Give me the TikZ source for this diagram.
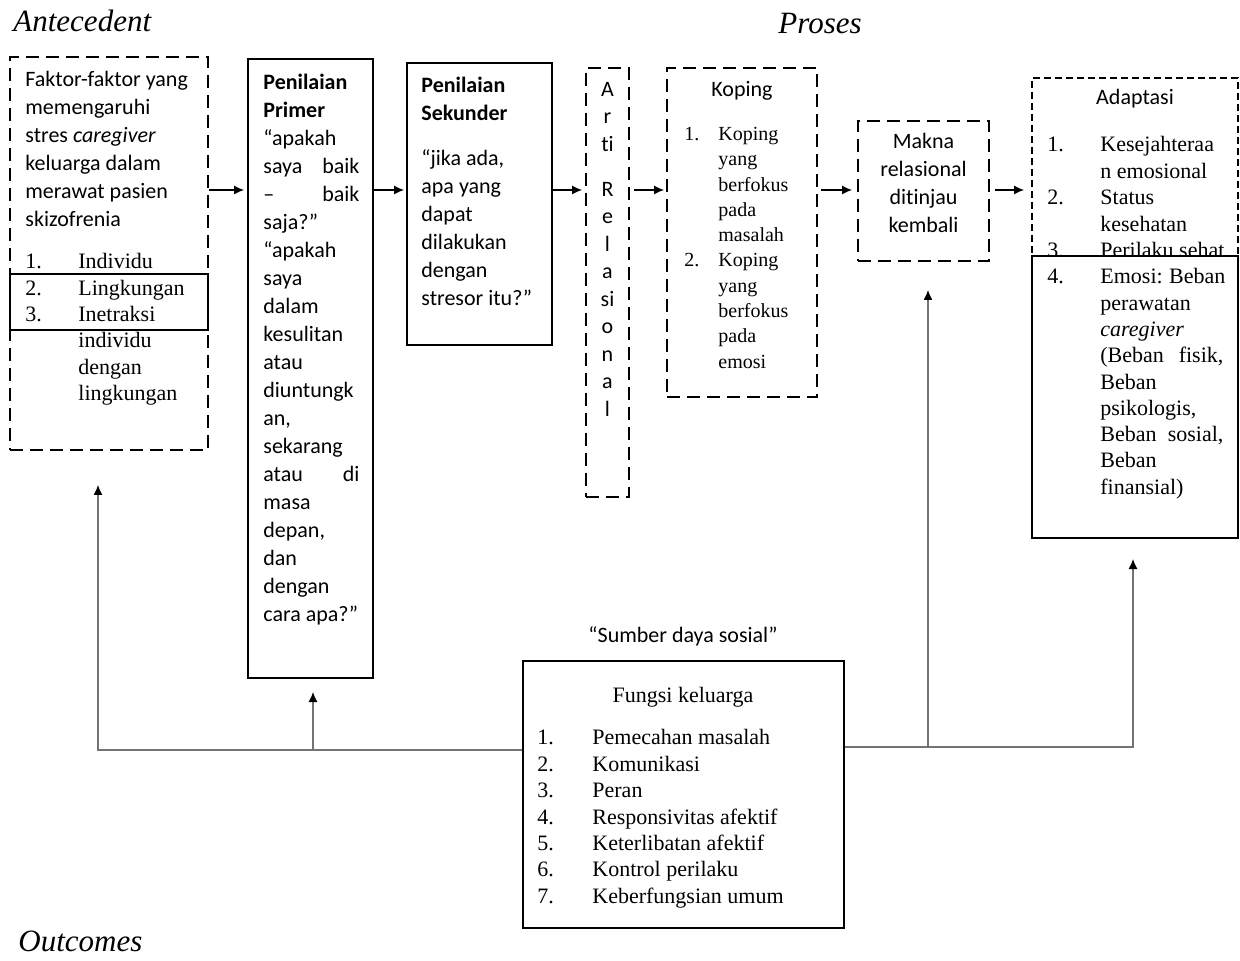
\documentclass[tikz,border=0pt]{standalone}
\usepackage{fontspec}
\setmainfont{Liberation Serif}
\newfontfamily\calibri[Ligatures=NoCommon]{Carlito}
\usepackage{tikz}
\usetikzlibrary{arrows.meta, fit}

\newcommand{\listnum}[3][26.5pt]{\makebox[#1][l]{#2}#3}

\tikzset{
  kotak/.style={draw, line width=0.8pt, inner sep=0pt},
  kotakputus/.style={kotak, dash pattern=on 6.5pt off 3.5pt},
  teks/.style={inner sep=0pt, anchor=north west, align=left},
  cal/.style={font=\calibri\fontsize{11}{14}\selectfont},
  tms/.style={font=\rmfamily\fontsize{11}{13.15}\selectfont},
  judul/.style={inner sep=0pt, anchor=base west, font=\rmfamily\itshape\fontsize{15.5}{18}\selectfont},
  panah/.style={line width=0.8pt, -{Latex[length=5pt,width=4.5pt]}},
  panahabu/.style={draw=black!55, line width=0.6pt, -{Latex[length=5pt,width=4.5pt,color=black]}}
}

\begin{document}
\begin{tikzpicture}[x=0.5pt,y=-0.5pt]
  \useasboundingbox (0,0) rectangle (1240,961);
  %judul
  \node[judul] (tAnt) at (13,32) {Antecedent};
  \node[judul] (tPro) at (778,34) {Proses};
  \node[judul] (tOut) at (18,951) {Outcomes};

  %antecedent
  \node[kotakputus, fit={(10,57) (208,450)}] (ant) {};
  \node[kotak, fit={(10,274) (208,330)}] (antBox) {};
  \node[teks, cal] (antTxt) at (25,66.4) {\strut Faktor-faktor yang\\memengaruhi\\stres \emph{caregiver}\\keluarga dalam\\merawat pasien\\skizofrenia};
  \node[teks, tms] (antList) at (25,250) {\strut\listnum{1.}{Individu}\\\listnum{2.}{Lingkungan}\\\listnum{3.}{Inetraksi}\\\listnum{}{individu}\\\listnum{}{dengan}\\\listnum{}{lingkungan}};

  %penilaian primer
  \node[kotak, fit={(248,59) (373,678)}] (pri) {};
  \node[teks, cal] (priTxt) at (263,69.4) {\strut\textbf{Penilaian}\\\textbf{Primer}\\“apakah\\\makebox[48pt][s]{saya baik}\\\makebox[48pt][s]{– baik}\\saja?”\\“apakah\\saya\\dalam\\kesulitan\\atau\\diuntungk\\an,\\sekarang\\\makebox[48pt][s]{atau di}\\masa\\depan,\\dan\\dengan\\cara apa?”};

  %penilaian sekunder
  \node[kotak, fit={(407,63) (552,345)}] (sek) {};
  \node[teks, cal] (sekTxt) at (421,72.4) {\strut\textbf{Penilaian}\\\textbf{Sekunder}\\[8.5pt]“jika ada,\\apa yang\\dapat\\dilakukan\\dengan\\stresor itu?”};

  %arti relasional
  \node[kotakputus, fit={(586,68) (629,497)}] (arti) {};
  \node[teks, anchor=north, align=center, font=\calibri\fontsize{11}{13.75}\selectfont] (artiTxt) at (607.5,76.4) {\strut A\\r\\ti\\[8.75pt]R\\e\\l\\a\\si\\o\\n\\a\\l};

  %koping
  \node[kotakputus, fit={(667,68) (817,397)}] (kop) {};
  \node[inner sep=0pt, anchor=base, cal] (kopJdl) at (742,97) {Koping};
  \node[teks, font=\rmfamily\fontsize{10}{12.65}\selectfont] (kopList) at (684,122.3) {\strut\listnum[17pt]{1.}{Koping}\\\listnum[17pt]{}{yang}\\\listnum[17pt]{}{berfokus}\\\listnum[17pt]{}{pada}\\\listnum[17pt]{}{masalah}\\\listnum[17pt]{2.}{Koping}\\\listnum[17pt]{}{yang}\\\listnum[17pt]{}{berfokus}\\\listnum[17pt]{}{pada}\\\listnum[17pt]{}{emosi}};

  %makna relasional
  \node[kotakputus, fit={(858,121) (989,261)}] (makna) {};
  \node[teks, anchor=north, align=center, cal] (maknaTxt) at (923.5,128.4) {\strut Makna\\relasional\\ditinjau\\kembali};

  %adaptasi
  \node[kotak, dash pattern=on 3.5pt off 2pt, fit={(1032,78) (1238,400)}] (adp) {};
  \node[inner sep=0pt, anchor=base, cal] (adpJdl) at (1135,105) {Adaptasi};
  \node[teks, font=\rmfamily\fontsize{11}{13.25}\selectfont] (adpList) at (1047,132.9) {\strut\listnum{1.}{Kesejahteraa}\\\listnum{}{n emosional}\\\listnum{2.}{Status}\\\listnum{}{kesehatan}\\\listnum{3.}{Perilaku sehat}};
  \node[kotak, fill=white, fit={(1032,256) (1238,538)}] (emo) {};
  \node[teks, tms] (emoList) at (1047,265) {\strut\listnum{4.}{\makebox[61.5pt][s]{Emosi: Beban}}\\\listnum{}{perawatan}\\\listnum{}{\textit{caregiver}}\\\listnum{}{\makebox[61.5pt][s]{(Beban fisik,}}\\\listnum{}{Beban}\\\listnum{}{psikologis,}\\\listnum{}{\makebox[61.5pt][s]{Beban sosial,}}\\\listnum{}{Beban}\\\listnum{}{finansial)}};

  %fungsi keluarga
  \node[inner sep=0pt, anchor=base, cal] (sds) at (683,642) {“Sumber daya sosial”};
  \node[kotak, fit={(523,661) (844,928)}] (fk) {};
  \node[inner sep=0pt, anchor=base, tms] (fkJdl) at (683,702) {Fungsi keluarga};
  \node[teks, font=\rmfamily\fontsize{11}{13.2}\selectfont] (fkList) at (537,726) {\strut\listnum[27.5pt]{1.}{Pemecahan masalah}\\\listnum[27.5pt]{2.}{Komunikasi}\\\listnum[27.5pt]{3.}{Peran}\\\listnum[27.5pt]{4.}{Responsivitas afektif}\\\listnum[27.5pt]{5.}{Keterlibatan afektif}\\\listnum[27.5pt]{6.}{Kontrol perilaku}\\\listnum[27.5pt]{7.}{Keberfungsian umum}};

  %panah proses
  \coordinate (yc) at (0,190);
  \draw[panah, shorten >=1.5pt] (ant.east |- yc) -- (pri.west |- yc);
  \draw[panah, shorten >=1pt] (pri.east |- yc) -- (sek.west |- yc);
  \draw[panah, shorten >=1.5pt] (sek.east |- yc) -- (arti.west |- yc);
  \draw[panah, shorten <=2pt, shorten >=1pt] (arti.east |- yc) -- (kop.west |- yc);
  \draw[panah, shorten <=1.5pt, shorten >=2.5pt] (kop.east |- yc) -- (makna.west |- yc);
  \draw[panah, shorten <=2.5pt, shorten >=3.5pt] (makna.east |- yc) -- (adp.west |- yc);

  %panah sumber daya
  \coordinate (tipA) at (98,485);
  \coordinate (tipB) at (313,692);
  \coordinate (tipC) at (928,290);
  \coordinate (tipD) at (1133,559);
  \draw[panahabu] (fk.west |- 0,750) -| (tipA);
  \draw[panahabu] (tipB |- 0,750) -- (tipB);
  \draw[panahabu] (fk.east |- 0,747) -| (tipD);
  \draw[panahabu] (tipC |- 0,747) -- (tipC);
\end{tikzpicture}
\end{document}
